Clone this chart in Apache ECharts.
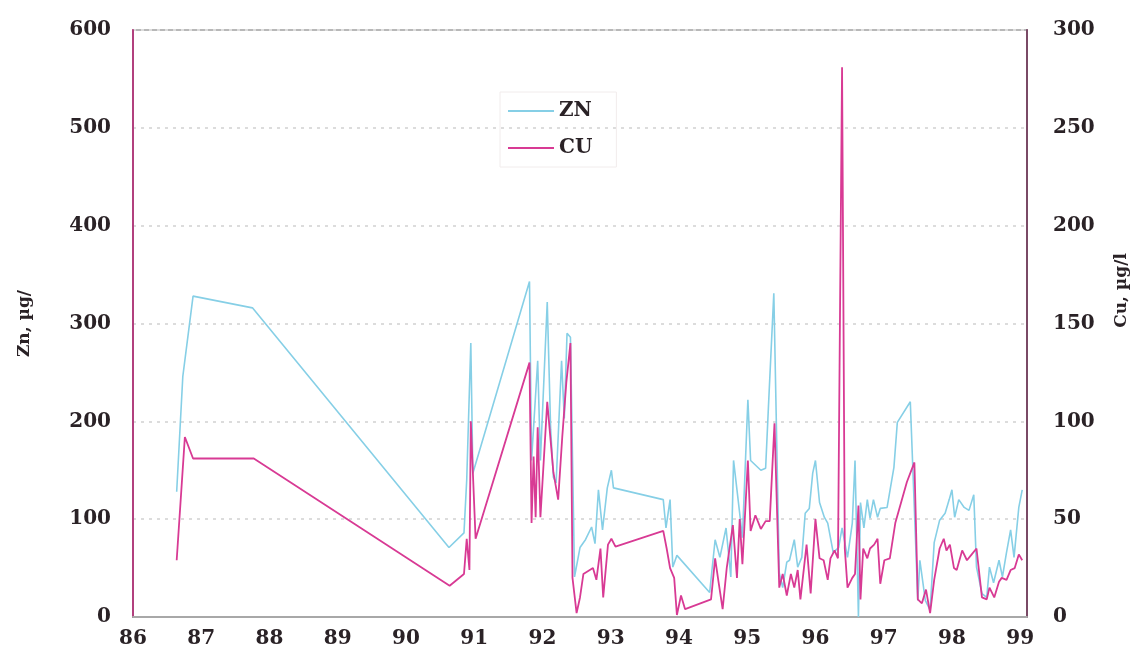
<!DOCTYPE html>
<html>
<head>
<meta charset="utf-8">
<script src="https://cdn.jsdelivr.net/npm/echarts@6/dist/echarts.min.js"></script>
<style>
html,body{margin:0;padding:0;background:#fff;}
#chart{width:1142px;height:670px;}
</style>
</head>
<body>
<div id="chart"></div>
<script>
// Zn series (left axis, µg/l) — x in years (86..99)
var znYears = [86.64,86.73,86.88,87.75,90.63,90.85,90.89,90.95,90.98,91.81,91.84,91.93,91.97,92.07,92.12,92.16,92.20,92.28,92.32,92.36,92.41,92.47,92.55,92.63,92.72,92.77,92.82,92.88,92.95,93.01,93.04,93.77,93.81,93.87,93.91,93.97,94.45,94.53,94.60,94.69,94.76,94.80,94.89,94.93,95.01,95.05,95.20,95.27,95.31,95.39,95.47,95.52,95.58,95.62,95.69,95.74,95.80,95.85,95.91,95.96,96.00,96.06,96.13,96.18,96.26,96.34,96.39,96.47,96.54,96.58,96.63,96.66,96.71,96.76,96.80,96.85,96.91,96.95,97.05,97.15,97.20,97.39,97.50,97.53,97.61,97.68,97.74,97.82,97.90,97.96,98.00,98.04,98.10,98.18,98.25,98.32,98.36,98.44,98.51,98.55,98.61,98.69,98.74,98.80,98.86,98.91,98.98,99.03];
var znValues = [128,246,328,316,71,86,140,280,147,343,160,262,160,322,192,143,137,262,203,290,286,41,71,79,92,75,130,89,132,150,132,120,91,120,51,63,25,79,61,91,41,160,106,81,222,160,150,152,213,331,45,30,56,58,79,51,61,106,111,147,160,117,102,96,66,71,91,61,96,160,0,117,91,120,101,120,102,111,112,153,199,220,17,58,17,7,76,99,106,120,130,102,120,112,109,125,51,24,20,51,35,58,41,66,89,61,112,130];

// Cu series (right axis, µg/l)
var cuYears = [86.64,86.76,86.88,87.77,90.64,90.85,90.89,90.93,90.95,90.98,91.02,91.81,91.84,91.87,91.90,91.93,91.97,92.07,92.12,92.16,92.23,92.29,92.35,92.41,92.44,92.50,92.55,92.60,92.74,92.79,92.85,92.89,92.96,93.01,93.07,93.77,93.82,93.87,93.93,93.97,94.03,94.09,94.47,94.53,94.58,94.64,94.70,94.79,94.85,94.89,94.93,95.01,95.05,95.12,95.20,95.27,95.33,95.40,95.47,95.52,95.58,95.64,95.69,95.74,95.78,95.87,95.93,96.00,96.06,96.12,96.18,96.22,96.28,96.33,96.39,96.43,96.47,96.54,96.58,96.63,96.66,96.70,96.76,96.80,96.86,96.91,96.95,97.01,97.09,97.17,97.34,97.45,97.50,97.56,97.62,97.68,97.74,97.82,97.88,97.92,97.97,98.03,98.07,98.15,98.22,98.29,98.36,98.44,98.51,98.55,98.62,98.69,98.73,98.80,98.86,98.92,98.98,99.03];
var cuValues = [29,92,81,81,16,22,40,24,100,74,40,130,48,82,51,97,51,110,90,74,60,92,120,140,20,2,10,22,25,19,35,10,37,40,36,44,35,25,20,1,11,4,9,30,18,4,25,47,20,50,27,80,44,52,45,49,49,99,15,22,11,22,15,24,9,37,12,50,30,29,19,30,34,30,281,35,15,20,22,57,9,35,30,35,37,40,17,29,30,48,69,79,9,7,14,2,19,35,40,34,37,25,24,34,29,32,35,10,9,15,10,18,20,19,24,25,32,29];

var xTickMin = 86, xTickMax = 99;
var znTicks = [0, 600, 100];
var cuTicks = [0, 300, 50];

function zip(xs, ys){ var o=[]; for(var i=0;i<xs.length;i++){ o.push([xs[i], ys[i]]); } return o; }

var FONT = '"DejaVu Serif", "Liberation Serif", serif';
var chart = echarts.init(document.getElementById('chart'), null, {renderer:'canvas'});
chart.setOption({
  animation:false,
  backgroundColor:'#ffffff',
  grid:{left:133, right:115, top:30, bottom:53, show:true, borderColor:'#b8b8b8', borderWidth:2, backgroundColor:'transparent'},
  legend:{
    left:500, top:92, orient:'vertical',
    icon:'rect', itemWidth:46, itemHeight:2, itemGap:15,
    padding:[8,24,8,8],
    borderColor:'#f1ecec', borderWidth:1,
    textStyle:{fontFamily:FONT, fontWeight:'bold', fontSize:20, color:'#2a2226', lineHeight:22},
    data:['ZN','CU']
  },
  xAxis:{
    type:'value', min:xTickMin, max:99.1, interval:1,
    axisLine:{show:true, lineStyle:{color:'#a8a8a8', width:2}},
    axisTick:{show:false},
    splitLine:{show:false},
    axisLabel:{
      margin:12, fontFamily:FONT, fontWeight:'bold', fontSize:20, color:'#2a2226',
      showMaxLabel:true,
      formatter:function(v){ return (Math.abs(v-Math.round(v))<1e-6 && v<=xTickMax) ? String(Math.round(v)) : ''; }
    }
  },
  yAxis:[{
    type:'value', position:'left', min:znTicks[0], max:znTicks[1], interval:znTicks[2],
    name:'Zn, µg/', nameLocation:'middle', nameGap:100, nameRotate:90,
    nameTextStyle:{fontFamily:FONT, fontWeight:'bold', fontSize:17, color:'#2a2226'},
    axisLine:{show:true, lineStyle:{color:'#b2407e', width:2}},
    axisTick:{show:false},
    axisLabel:{margin:22, fontFamily:FONT, fontWeight:'bold', fontSize:20, color:'#2a2226'},
    splitLine:{show:true, lineStyle:{color:'#dcdcdc', type:[3,5], width:2}}
  },{
    type:'value', position:'right', min:cuTicks[0], max:cuTicks[1], interval:cuTicks[2],
    name:'Cu, µg/l', nameLocation:'middle', nameGap:86, nameRotate:90,
    nameTextStyle:{fontFamily:FONT, fontWeight:'bold', fontSize:17, color:'#2a2226', padding:[0,0,0,66]},
    axisLine:{show:true, lineStyle:{color:'#7a4a66', width:2}},
    axisTick:{show:false},
    axisLabel:{margin:26, fontFamily:FONT, fontWeight:'bold', fontSize:20, color:'#2a2226'},
    splitLine:{show:false}
  }],
  series:[{
    name:'ZN', type:'line', yAxisIndex:0, symbol:'none', color:'#86cfe6',
    lineStyle:{width:1.6, color:'#86cfe6'},
    data:zip(znYears, znValues)
  },{
    name:'CU', type:'line', yAxisIndex:1, symbol:'none', color:'#d83a94',
    lineStyle:{width:1.8, color:'#d83a94'},
    data:zip(cuYears, cuValues)
  }]
});
</script>
</body>
</html>
